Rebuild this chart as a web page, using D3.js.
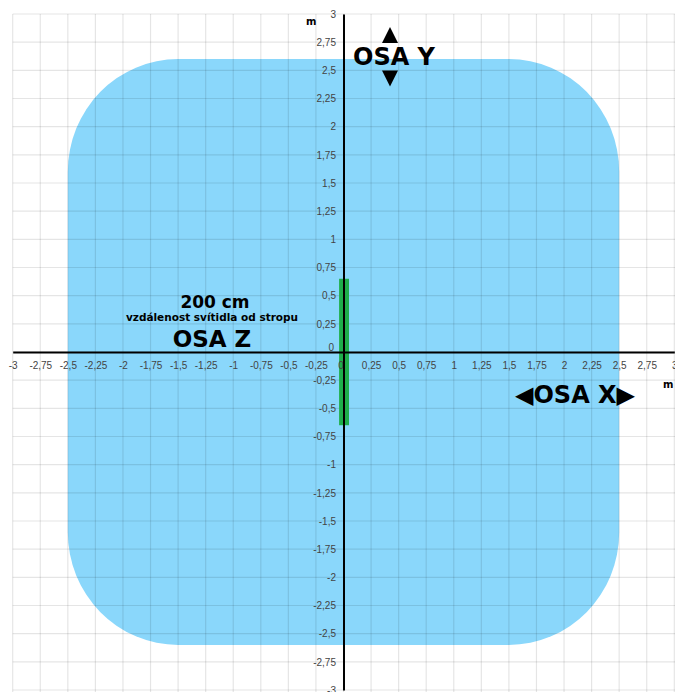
<!DOCTYPE html>
<html lang="cs">
<head>
  <meta charset="UTF-8">
  <title>Osa X / Y / Z</title>
  <script src="https://d3js.org/d3.v7.min.js"></script>
  <style>
    body { margin: 0; background: #fff; }
    .tick text { font-family: "Liberation Sans", Arial, sans-serif; font-size: 10px; fill: #444; }
    .big { font-family: "DejaVu Sans", Verdana, sans-serif; font-weight: bold; fill: #000; }
  </style>
</head>
<body>
<div id="chart"></div>
<script>
// tick values on both axes (metres)
var tickValues = [-3, -2.75, -2.5, -2.25, -2, -1.75, -1.5, -1.25, -1, -0.75, -0.5, -0.25,
                  0, 0.25, 0.5, 0.75, 1, 1.25, 1.5, 1.75, 2, 2.25, 2.5, 2.75, 3];
// lit area (blue) and the lamp (green), in metres
var areaX = [-2.5, 2.5];
var areaY = [-2.6, 2.6];
var areaCorner = [1];
var lampX = [-0.04, 0.05];
var lampY = [-0.65, 0.65];

var width = 675, height = 692;

var x = d3.scaleLinear().domain([-3, 3]).range([12.7, 674.3]);
var y = d3.scaleLinear().domain([-3, 3]).range([690, 14]);

var svg = d3.select("#chart").append("svg")
  .attr("width", width)
  .attr("height", height);

// blue area with rounded corners
svg.append("rect")
  .attr("x", x(areaX[0]))
  .attr("y", y(areaY[1]))
  .attr("width", x(areaX[1]) - x(areaX[0]))
  .attr("height", y(areaY[0]) - y(areaY[1]))
  .attr("rx", x(areaCorner[0]) - x(0))
  .attr("ry", y(0) - y(areaCorner[0]))
  .attr("fill", "#8ad7fb");

// grid on top so it shows through the blue
svg.append("g").selectAll("line.v")
  .data(tickValues)
  .enter().append("line")
    .attr("x1", function(d){ return x(d); })
    .attr("x2", function(d){ return x(d); })
    .attr("y1", y(3))
    .attr("y2", height)
    .attr("stroke", "rgba(0,0,0,0.1)")
    .attr("stroke-width", 1.2);
svg.append("g").selectAll("line.h")
  .data(tickValues)
  .enter().append("line")
    .attr("x1", x(-3))
    .attr("x2", width)
    .attr("y1", function(d){ return y(d); })
    .attr("y2", function(d){ return y(d); })
    .attr("stroke", "rgba(0,0,0,0.1)")
    .attr("stroke-width", 1.2);

// lamp
svg.append("rect")
  .attr("x", x(lampX[0]))
  .attr("y", y(lampY[1]))
  .attr("width", x(lampX[1]) - x(lampX[0]))
  .attr("height", y(lampY[0]) - y(lampY[1]))
  .attr("fill", "#1fae4b");

// comma decimals, like the original
var fmt = function(d){ return String(+d.toFixed(2)).replace(".", ","); };

var xAxis = d3.axisBottom(x).tickValues(tickValues).tickSize(0).tickSizeOuter(0)
  .tickPadding(10).tickFormat(fmt);
var yAxis = d3.axisLeft(y).tickValues(tickValues).tickSize(0).tickSizeOuter(0)
  .tickPadding(7.5).tickFormat(fmt);

var gx = svg.append("g")
  .attr("transform", "translate(0," + y(0) + ")")
  .call(xAxis);
gx.select(".domain").attr("stroke", "#000").attr("stroke-width", 2);
gx.selectAll(".tick").filter(function(d){ return d === 0; })
  .select("text").attr("dx", "-3");

var gy = svg.append("g")
  .attr("transform", "translate(" + x(0) + ",0)")
  .call(yAxis);
gy.select(".domain").attr("stroke", "#000").attr("stroke-width", 2);
gy.selectAll(".tick").filter(function(d){ return d === 0; })
  .select("text").attr("dy", "-0.2em").attr("dx", "-2");

// unit labels
svg.append("text").attr("class", "big").attr("x", 306).attr("y", 25)
  .attr("font-size", "10px").text("m");
svg.append("text").attr("class", "big").attr("x", 663).attr("y", 388)
  .attr("font-size", "10px").text("m");

// axis names, arrows for OSA Y drawn as small triangles
svg.append("path").attr("transform", "translate(390,35)")
  .attr("d", "M-8,8L8,8L0,-8Z").attr("fill", "#000");
svg.append("text").attr("class", "big").attr("x", 353).attr("y", 65)
  .attr("font-size", "24px").text("OSA Y");
svg.append("path").attr("transform", "translate(390,78.5)")
  .attr("d", "M-8,-8L8,-8L0,8Z").attr("fill", "#000");

svg.append("text").attr("class", "big").attr("x", 515).attr("y", 403)
  .attr("font-size", "24px").text("◀OSA X▶");

svg.append("text").attr("class", "big").attr("x", 215).attr("y", 308)
  .attr("text-anchor", "middle").attr("font-size", "17px").text("200 cm");
svg.append("text").attr("class", "big").attr("x", 212).attr("y", 321)
  .attr("text-anchor", "middle").attr("font-size", "10.5px").text("vzdálenost svítidla od stropu");
svg.append("text").attr("class", "big").attr("x", 212).attr("y", 347)
  .attr("text-anchor", "middle").attr("font-size", "23px").text("OSA Z");
</script>
</body>
</html>
